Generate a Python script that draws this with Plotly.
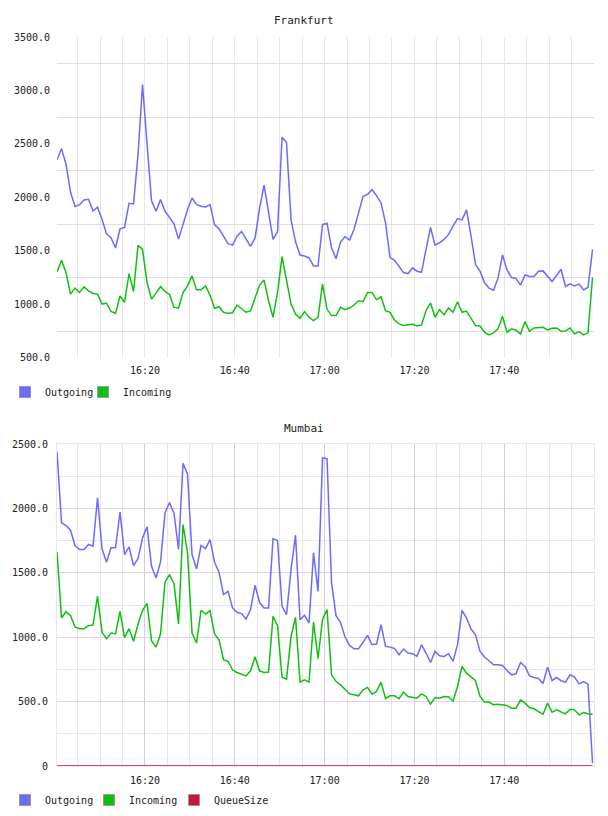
import pandas as pd
import plotly.graph_objects as go

# ---------------- data ----------------
times = pd.date_range("2013-05-14 16:00:25", periods=120, freq="60120ms")

fra_out = [2352, 2457, 2311, 2048, 1915, 1933, 1977, 1983, 1874, 1909,
           1794, 1661, 1624, 1528, 1707, 1720, 1946, 1940, 2400, 3055,
           2500, 1970, 1871, 1980, 1871, 1809, 1754, 1611, 1760, 1887,
           1995, 1936, 1918, 1912, 1933, 1747, 1707, 1639, 1568, 1555,
           1639, 1682, 1614, 1543, 1620, 1896, 2116, 1840, 1608, 1682,
           2562, 2513, 1794, 1586, 1462, 1453, 1435, 1360, 1360, 1746,
           1760, 1531, 1428, 1583, 1633, 1602, 1701, 1856, 2011, 2029,
           2073, 2017, 1949, 1763, 1438, 1413, 1354, 1298, 1289, 1342,
           1311, 1301, 1515, 1720, 1555, 1577, 1608, 1655, 1732, 1803,
           1791, 1884, 1639, 1373, 1311, 1205, 1153, 1134, 1246, 1463,
           1323, 1252, 1243, 1181, 1277, 1261, 1261, 1311, 1314, 1264,
           1215, 1271, 1329, 1168, 1193, 1174, 1190, 1137, 1159, 1515]

fra_in = [1304, 1413, 1298, 1097, 1153, 1112, 1165, 1128, 1103, 1097,
          1004, 1013, 936, 917, 1081, 1019, 1289, 1122, 1552, 1515,
          1205, 1050, 1106, 1168, 1122, 1094, 973, 967, 1112, 1174,
          1267, 1137, 1137, 1174, 1088, 964, 979, 927, 917, 923,
          995, 964, 927, 939, 1066, 1181, 1230, 1035, 880, 1112,
          1447, 1236, 1004, 911, 871, 933, 880, 849, 880, 1190,
          957, 896, 896, 973, 951, 967, 995, 1035, 1026, 1112,
          1112, 1044, 1072, 942, 927, 855, 818, 803, 809, 815,
          800, 809, 942, 1013, 880, 951, 905, 967, 927, 1026,
          927, 939, 871, 803, 800, 741, 716, 735, 772, 889,
          741, 772, 759, 725, 840, 750, 781, 787, 787, 762,
          778, 781, 750, 753, 781, 725, 747, 716, 735, 1252]

mum_out = [2438, 1888, 1867, 1831, 1712, 1681, 1681, 1720, 1707, 2083,
           1686, 1582, 1694, 1694, 1971, 1642, 1701, 1556, 1611, 1771,
           1857, 1551, 1460, 1585, 1966, 2046, 1961, 1681, 2350, 2264,
           1642, 1530, 1712, 1688, 1758, 1582, 1504, 1331, 1356, 1227,
           1193, 1183, 1141, 1214, 1403, 1271, 1227, 1227, 1766, 1751,
           1240, 1175, 1525, 1792, 1136, 1170, 1110, 1655, 1356, 2392,
           2386, 1421, 1167, 1115, 1001, 936, 910, 910, 960, 1014,
           942, 947, 1097, 929, 923, 913, 864, 908, 877, 872,
           851, 942, 877, 804, 890, 856, 851, 872, 812, 942,
           1209, 1149, 1063, 1019, 890, 846, 817, 786, 786, 781,
           742, 708, 716, 804, 773, 700, 687, 680, 641, 768,
           664, 687, 662, 651, 708, 690, 638, 656, 636, 21]

mum_in = [1662, 1149, 1198, 1167, 1079, 1066, 1066, 1089, 1095, 1318,
          1038, 988, 1032, 1027, 1201, 996, 1066, 968, 1102, 1209,
          1263, 973, 923, 1025, 1429, 1486, 1416, 1102, 1875, 1655,
          1032, 955, 1209, 1180, 1206, 1025, 980, 825, 812, 747,
          726, 716, 700, 739, 848, 739, 726, 729, 1162, 1089,
          690, 675, 1006, 1154, 651, 669, 651, 1118, 833, 1140,
          1214, 708, 656, 630, 592, 560, 553, 545, 592, 610,
          558, 579, 651, 524, 545, 545, 522, 573, 540, 532,
          527, 560, 540, 480, 532, 527, 540, 537, 503, 617,
          773, 721, 690, 662, 540, 496, 496, 475, 480, 475,
          470, 449, 449, 514, 488, 454, 444, 423, 402, 488,
          418, 436, 423, 405, 441, 436, 397, 415, 405, 402]

mum_queue = [0, 0, 0, 0, 0, 0, 0, 0, 0, 0, 0, 0, 0, 0, 0, 0, 0, 0, 0, 0,
             0, 0, 0, 0, 0, 0, 0, 0, 0, 0, 0, 0, 0, 0, 0, 0, 0, 0, 0, 0,
             0, 0, 0, 0, 0, 0, 0, 0, 0, 0, 0, 0, 0, 0, 0, 0, 0, 0, 0, 0,
             0, 0, 0, 0, 0, 0, 0, 0, 0, 0, 0, 0, 0, 0, 0, 0, 0, 0, 0, 0,
             0, 0, 0, 0, 0, 0, 0, 0, 0, 0, 0, 0, 0, 0, 0, 0, 0, 0, 0, 0,
             0, 0, 0, 0, 0, 0, 0, 0, 0, 0, 0, 0, 0, 0, 0, 0, 0, 0, 0, 0]

fra_ticks = [500, 1000, 1500, 2000, 2500, 3000, 3500]
fra_ticktext = ["500.0", "1000.0", "1500.0", "2000.0", "2500.0", "3000.0", "3500.0"]
mum_ticks = [0, 500, 1000, 1500, 2000, 2500]
mum_ticktext = ["0", "500.0", "1000.0", "1500.0", "2000.0", "2500.0"]
series_names = ["Outgoing", "Incoming", "QueueSize"]
titles = ["Frankfurt", "Mumbai"]

# ---------------- style ----------------
C_OUT = "#6b6bff"
C_IN = "#10c010"
C_Q = "#cc1040"
FONT = "DejaVu Sans Mono"
X_RANGE = ["2013-05-14 16:00:24.6", "2013-05-14 17:59:59"]
W, H = 608, 816

fig = go.Figure()


def add_series(xa, ya, y, color, name, legend, group):
    fig.add_trace(go.Scatter(x=times, y=y, mode="lines", xaxis=xa, yaxis=ya,
                             line=dict(color=color, width=1.5),
                             showlegend=False, legendgroup=group, name=name,
                             hoverinfo="x+y+name"))
    fig.add_trace(go.Scatter(x=[None], y=[None], mode="markers", xaxis=xa, yaxis=ya,
                             marker=dict(symbol="square", size=11, color=color,
                                         line=dict(color="#999999", width=1)),
                             name=name, legend=legend, legendgroup=group,
                             showlegend=True))


add_series("x", "y", fra_out, C_OUT, series_names[0], "legend", "fo")
add_series("x", "y", fra_in, C_IN, series_names[1], "legend2", "fi")
add_series("x2", "y2", mum_out, C_OUT, series_names[0], "legend3", "mo")
add_series("x2", "y2", mum_in, C_IN, series_names[1], "legend4", "mi")
add_series("x2", "y2", mum_queue, C_Q, series_names[2], "legend5", "mq")

tickfont = dict(family=FONT, size=10, color="#222222")

xcommon = dict(type="date", range=X_RANGE, tickformat="%H:%M",
               tick0="2013-05-14 16:00", dtick=1200000, ticks="",
               tickfont=tickfont, zeroline=False, fixedrange=True,
               ticklabelstandoff=5, automargin=False)


def leg(px_left, py_center):
    return dict(orientation="h", xanchor="left", yanchor="middle",
                xref="container", yref="container",
                x=px_left / W, y=1 - py_center / H,
                font=dict(family=FONT, size=10, color="#222222"),
                itemwidth=30, bgcolor="rgba(0,0,0,0)")


fig.update_layout(
    width=W, height=H,
    margin=dict(l=57, r=14, t=37, b=50, autoexpand=False),
    paper_bgcolor="white", plot_bgcolor="white",
    xaxis=dict(domain=[0, 1], anchor="y", showgrid=True, gridcolor="#e6e6e6",
               minor=dict(dtick=300000, tick0="2013-05-14 16:00", showgrid=True,
                          gridcolor="#e6e6e6"),
               showline=False, **xcommon),
    yaxis=dict(domain=[0.5597, 1], anchor="x", range=[500, 3500],
               tickmode="array", tickvals=fra_ticks, ticktext=fra_ticktext,
               showgrid=False, zeroline=False, ticks="", tickfont=tickfont,
               ticklabelstandoff=6, automargin=False,
               minor=dict(tickmode="array",
                          tickvals=[750, 1250, 1750, 2250, 2750, 3250],
                          showgrid=True, gridcolor="#dedede"),
               fixedrange=True),
    xaxis2=dict(domain=[0, 1], anchor="y2", showgrid=True, gridcolor="#dcc8df",
                minor=dict(dtick=300000, tick0="2013-05-14 16:00", showgrid=True,
                           gridcolor="#e8e4e8"),
                showline=True, mirror=True, linecolor="#f0e2f2", **xcommon),
    yaxis2=dict(domain=[0, 0.4417], anchor="x2", range=[0, 2500],
                tickmode="array", tickvals=mum_ticks, ticktext=mum_ticktext,
                showgrid=True, gridcolor="#e6cfe8", zeroline=False, ticks="",
                tickfont=tickfont, showline=True, mirror=True, linecolor="#f0e2f2",
                ticklabelstandoff=6, automargin=False,
                minor=dict(tickmode="array",
                           tickvals=[250, 750, 1250, 1750, 2250],
                           showgrid=True, gridcolor="#e6e6e6"),
                fixedrange=True),
    legend=leg(5, 392),
    legend2=leg(83, 392),
    legend3=leg(5, 800),
    legend4=leg(89, 800),
    legend5=leg(174, 800),
    showlegend=True,
    annotations=[
        dict(text=titles[0], x=(304 - 57) / 537, y=(766 - 20) / 729, xref="paper",
             yref="paper", xanchor="center", yanchor="middle", showarrow=False,
             font=dict(family=FONT, size=11, color="#222222")),
        dict(text=titles[1], x=(304 - 57) / 537, y=(766 - 429) / 729, xref="paper",
             yref="paper", xanchor="center", yanchor="middle", showarrow=False,
             font=dict(family=FONT, size=11, color="#222222")),
    ],
)

fig.write_html("out.html")
